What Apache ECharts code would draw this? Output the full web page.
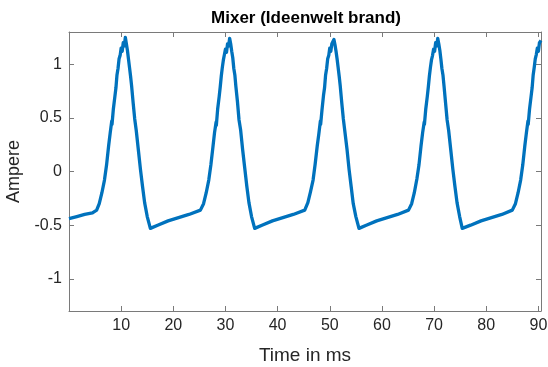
<!DOCTYPE html>
<html>
<head>
<meta charset="utf-8">
<script src="https://cdn.jsdelivr.net/npm/echarts@6/dist/echarts.min.js"></script>
<style>
  html, body { margin: 0; padding: 0; background: #fff; }
  #main { width: 548px; height: 367px; }
</style>
</head>
<body>
<div id="main"></div>
<script>
// 数据：电流波形
var timeMs = [
  0, 1.5, 3.0, 4.5, 5.3, 5.8, 6.3, 6.8, 7.2, 7.6, 7.9, 8.2, 8.25, 8.5, 8.8, 9.0, 9.2, 9.4, 9.6, 9.8, 10.0, 10.2, 10.4, 10.6, 10.8, 11.0, 11.2, 11.4, 11.6, 11.8, 12.0, 12.3, 12.6, 12.9, 13.3, 13.7, 14.1, 14.5, 15.0, 15.6,
  17.0, 19.0, 21.0, 23.0, 25.2, 25.8, 26.3, 26.8, 27.2, 27.6, 27.9, 28.2, 28.25, 28.5, 28.8, 29.0, 29.2, 29.4, 29.6, 29.8, 30.0, 30.2, 30.4, 30.6, 30.8, 31.0, 31.2, 31.4, 31.6, 31.8, 32.0, 32.3, 32.6, 32.9, 33.3, 33.7, 34.1, 34.5, 35.0, 35.6,
  37.0, 39.0, 41.0, 43.0, 45.2, 45.8, 46.3, 46.8, 47.2, 47.6, 47.9, 48.2, 48.25, 48.5, 48.8, 49.0, 49.2, 49.4, 49.6, 49.8, 50.0, 50.2, 50.4, 50.6, 50.8, 51.0, 51.2, 51.4, 51.6, 51.8, 52.0, 52.3, 52.6, 52.9, 53.3, 53.7, 54.1, 54.5, 55.0, 55.6,
  57.0, 59.0, 61.0, 63.0, 65.1, 65.7, 66.2, 66.7, 67.1, 67.5, 67.8, 68.1, 68.15, 68.4, 68.7, 68.9, 69.1, 69.3, 69.5, 69.7, 69.9, 70.1, 70.3, 70.5, 70.7, 70.9, 71.1, 71.3, 71.5, 71.7, 71.9, 72.2, 72.5, 72.8, 73.2, 73.6, 74.0, 74.4, 74.9, 75.4,
  77.0, 79.0, 81.0, 83.0, 85.0, 85.6, 86.1, 86.6, 87.0, 87.4, 87.7, 88.0, 88.05, 88.3, 88.6, 88.8, 89.0, 89.2, 89.4, 89.6, 89.8, 90.0, 90.2, 90.5
];
var currentA = [
  -0.44, -0.42, -0.40, -0.385, -0.36, -0.30, -0.20, -0.08, 0.06, 0.24, 0.36, 0.47, 0.44, 0.58, 0.70, 0.78, 0.90, 0.96, 1.05, 1.08, 1.15, 1.12, 1.20, 1.17, 1.25, 1.19, 1.13, 1.05, 0.97, 0.89, 0.80, 0.64, 0.49, 0.38, 0.20, 0.02, -0.14, -0.29, -0.42, -0.53,
  -0.50, -0.46, -0.43, -0.40, -0.36, -0.30, -0.20, -0.08, 0.06, 0.23, 0.36, 0.46, 0.43, 0.58, 0.70, 0.79, 0.89, 0.97, 1.04, 1.09, 1.14, 1.11, 1.19, 1.17, 1.24, 1.19, 1.12, 1.06, 0.96, 0.90, 0.79, 0.65, 0.48, 0.39, 0.20, 0.03, -0.14, -0.29, -0.42, -0.53,
  -0.50, -0.46, -0.43, -0.40, -0.36, -0.29, -0.19, -0.08, 0.07, 0.24, 0.35, 0.47, 0.44, 0.57, 0.71, 0.78, 0.90, 0.96, 1.05, 1.08, 1.15, 1.12, 1.19, 1.18, 1.23, 1.18, 1.12, 1.05, 0.97, 0.89, 0.80, 0.64, 0.49, 0.37, 0.21, 0.02, -0.14, -0.30, -0.42, -0.53,
  -0.50, -0.46, -0.43, -0.40, -0.36, -0.30, -0.20, -0.07, 0.06, 0.24, 0.36, 0.46, 0.44, 0.58, 0.70, 0.79, 0.89, 0.97, 1.04, 1.08, 1.14, 1.12, 1.20, 1.17, 1.24, 1.19, 1.13, 1.05, 0.96, 0.90, 0.80, 0.64, 0.48, 0.38, 0.20, 0.02, -0.14, -0.29, -0.42, -0.53,
  -0.50, -0.46, -0.43, -0.40, -0.36, -0.30, -0.20, -0.08, 0.06, 0.24, 0.36, 0.47, 0.44, 0.58, 0.70, 0.78, 0.90, 0.97, 1.05, 1.09, 1.15, 1.12, 1.20, 1.22
];
var xTicks = [10, 20, 30, 40, 50, 60, 70, 80, 90];
var yTicks = [-1, -0.5, 0, 0.5, 1];

var seriesData = timeMs.map(function (t, i) { return [t, currentA[i]]; });

var chart = echarts.init(document.getElementById('main'));

var axisColor = '#7a7a7a';
var textColor = '#262626';
var fontFam = '"Liberation Sans", Arial, sans-serif';

function xAxisBase(pos, showLabel) {
  return {
    type: 'value',
    position: pos,
    min: 0,
    max: 90.5,
    interval: 10,
    splitLine: { show: false },
    axisLine: { show: true, onZero: false, lineStyle: { color: axisColor, width: 1 } },
    axisTick: { show: true, inside: true, length: 5, lineStyle: { color: axisColor } },
    axisLabel: {
      show: showLabel,
      color: textColor,
      fontSize: 16,
      fontFamily: fontFam,
      margin: 7,
      formatter: function (v) { return xTicks.indexOf(v) >= 0 ? String(v) : ''; }
    }
  };
}

function yAxisBase(pos, showLabel) {
  return {
    type: 'value',
    position: pos,
    min: -1.3,
    max: 1.3,
    splitNumber: 5,
    splitLine: { show: false },
    axisLine: { show: true, onZero: false, lineStyle: { color: axisColor, width: 1 } },
    axisTick: { show: true, inside: true, length: 5, lineStyle: { color: axisColor } },
    axisLabel: {
      show: showLabel,
      color: textColor,
      fontSize: 16,
      fontFamily: fontFam,
      margin: 7,
      formatter: function (v) {
        var r = Math.round(v * 10) / 10;
        return yTicks.indexOf(r) >= 0 && Math.abs(v - r) < 1e-6 ? String(r) : '';
      }
    }
  };
}

var xBottom = xAxisBase('bottom', true);
xBottom.name = 'Time in ms';
xBottom.nameLocation = 'middle';
xBottom.nameGap = 35;
xBottom.nameTextStyle = { color: textColor, fontSize: 19, fontFamily: fontFam };

var yLeft = yAxisBase('left', true);
yLeft.name = 'Ampere';
yLeft.nameLocation = 'middle';
yLeft.nameGap = 38;
yLeft.nameTextStyle = { color: textColor, fontSize: 18, fontFamily: fontFam };

var option = {
  backgroundColor: '#ffffff',
  animation: false,
  title: {
    text: 'Mixer (Ideenwelt brand)',
    left: 301,
    top: 5,
    textAlign: 'center',
    textStyle: { color: '#000', fontSize: 17, fontWeight: 'bold', fontFamily: fontFam }
  },
  grid: { left: 69, right: 7, top: 32, bottom: 56, containLabel: false, outerBoundsMode: 'none' },
  xAxis: [xBottom, xAxisBase('top', false)],
  yAxis: [yLeft, yAxisBase('right', false)],
  series: [{
    name: 'Current',
    type: 'line',
    xAxisIndex: 0,
    yAxisIndex: 0,
    data: seriesData,
    showSymbol: false,
    symbol: 'none',
    lineStyle: { color: '#0072BD', width: 3.3, join: 'round' }
  }]
};

chart.setOption(option);
</script>
</body>
</html>
